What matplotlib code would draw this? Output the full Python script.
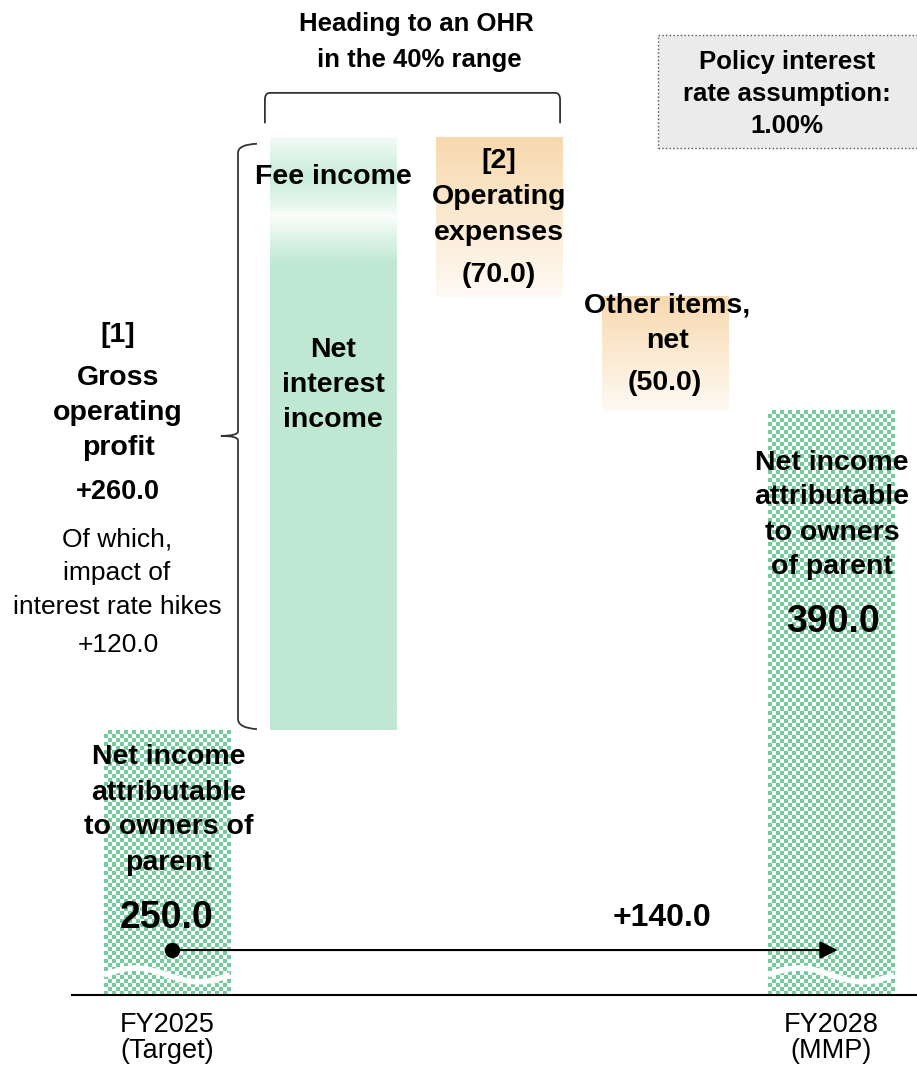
import numpy as np
import matplotlib
matplotlib.use('Agg')
import matplotlib.pyplot as plt
from matplotlib.colors import LinearSegmentedColormap, ListedColormap
from matplotlib.patches import Rectangle, PathPatch
from matplotlib.path import Path

plt.rcParams['font.family'] = ['Liberation Sans', 'DejaVu Sans']

# waterfall data (billion yen)
positions = [0, 1, 2, 3, 4]
start_value = 250.0
net_interest_income = 225.0   # part of gross operating profit (estimated split)
fee_income = 35.0
operating_expenses = -70.0
other_items = -50.0
end_value = 390.0
tick_pos = [0, 4]
tick_labels = ['FY2025\n(Target)', 'FY2028\n(MMP)']

W, H = 917, 1070
fig = plt.figure(figsize=(W / 100, H / 100), dpi=100)
ax = fig.add_axes([72 / W, 75 / H, 845 / W, 995 / H])
XLIM = (-0.572, 4.518)
YLIM = (134, 570)
ax.set_xlim(XLIM)
ax.set_ylim(YLIM)
ax.set_autoscale_on(False)

bw = 0.76
floor = YLIM[0]
GREEN = '#bfe8d3'
CHECK = '#74cc9c'


def px_per_unit():
    p = ax.transData.transform([[0, 0], [1, 1]])
    return p[1, 0] - p[0, 0], p[1, 1] - p[0, 1]


def checker_bar(x, bottom, top, cell=4):
    sx, sy = px_per_unit()
    nx = int(round(bw * sx / cell))
    ny = int(round((top - bottom) * sy / cell))
    grid = np.add.outer(np.arange(ny), np.arange(nx)) % 2
    ax.imshow(grid, cmap=ListedColormap(['white', CHECK]), interpolation='nearest',
              extent=(x - bw / 2, x + bw / 2, bottom, top), aspect='auto', zorder=1)


def gradient_bar(x, bottom, top, stops):
    cmap = LinearSegmentedColormap.from_list('g', stops)
    grad = np.linspace(0, 1, 256).reshape(-1, 1)
    ax.imshow(grad, cmap=cmap, vmin=0, vmax=1, interpolation='bilinear',
              extent=(x - bw / 2, x + bw / 2, bottom, top), aspect='auto', zorder=1)


def wave(x, yc, amp=3.0):
    t = np.linspace(0, 1, 120)
    ax.plot(x - bw / 2 + t * bw, yc + amp * np.sin(2 * np.pi * t), color='white',
            lw=4, solid_capstyle='butt', zorder=2)


# bars
gross_top = start_value + net_interest_income + fee_income
opex_bottom = gross_top + operating_expenses
other_bottom = opex_bottom + other_items

checker_bar(positions[0], floor, start_value)
gradient_bar(positions[1], start_value, start_value + net_interest_income,
             [(0, '#f8fdfa'), (0.09, GREEN), (1, GREEN)])
gradient_bar(positions[1], start_value + net_interest_income, gross_top,
             [(0, '#f3fbf7'), (0.5, '#c8ecda'), (0.88, '#ebf8f1'), (1, '#fbfefc')])
orange = [(0, '#f8d9ae'), (1, '#fefaf4')]
gradient_bar(positions[2], opex_bottom, gross_top, orange)
gradient_bar(positions[3], other_bottom, opex_bottom, orange)
checker_bar(positions[4], floor, end_value)

wave(positions[0], floor + 8.8)
wave(positions[4], floor + 8.8)

# arrow from start to end
ay = floor + 19.7
ax.annotate('', xy=(positions[4] + 0.04, ay), xytext=(positions[0] + 0.03, ay),
            arrowprops=dict(arrowstyle='-|>', color='black', lw=1.5,
                            mutation_scale=27, shrinkA=0, shrinkB=0), zorder=3)
ax.plot(positions[0] + 0.03, ay, 'o', color='black', ms=10, zorder=4)

# left brace around gross operating profit
xl, xe, xt = 0.428, 0.542, 0.325
bt, bb = gross_top - 3, start_value + 1
mid = (bt + bb) / 2
verts = [(xe, bt), (xl, bt - 0.3), (xl, bt - 4),
         (xl, mid + 2), (xl, mid), (xt, mid),
         (xl, mid), (xl, mid - 2),
         (xl, bb + 4), (xl, bb), (xe, bb - 0.5)]
codes = [Path.MOVETO, Path.CURVE3, Path.CURVE3,
         Path.LINETO, Path.CURVE3, Path.CURVE3,
         Path.CURVE3, Path.CURVE3,
         Path.LINETO, Path.CURVE3, Path.CURVE3]
ax.add_patch(PathPatch(Path(verts, codes), fill=False, ec='#333333', lw=1.3, clip_on=False))

# top bracket over [1] and [2]
xL = positions[1] - bw / 2 - 0.03
xR = positions[2] + bw / 2 - 0.012
yt, yb = gross_top + 19.3, gross_top + 6
verts = [(xL, yb), (xL, yt - 3), (xL, yt), (xL + 0.03, yt),
         (xR - 0.03, yt), (xR, yt), (xR, yt - 3), (xR, yb)]
codes = [Path.MOVETO, Path.LINETO, Path.CURVE3, Path.CURVE3,
         Path.LINETO, Path.CURVE3, Path.CURVE3, Path.LINETO]
ax.add_patch(PathPatch(Path(verts, codes), fill=False, ec='#333333', lw=1.3, clip_on=False))

# axes styling
for s in ['top', 'left', 'right']:
    ax.spines[s].set_visible(False)
ax.spines['bottom'].set_linewidth(1.5)
ax.set_yticks([])
ax.set_xticks(tick_pos, tick_labels)
ax.tick_params(axis='x', length=0, pad=12, labelsize=19.5)
for lbl in ax.get_xticklabels():
    lbl.set_linespacing(1.0)
ax.patch.set_alpha(0)


def label(px, py, s, size=20.5, weight='bold', ls=1.45):
    fig.text(px / W, 1 - py / H, s, ha='center', va='center', fontsize=size,
             fontweight=weight, linespacing=ls, multialignment='center', zorder=5)


# policy box
fig.patches.append(Rectangle((658 / W, 1 - 148 / H), 270 / W, 113 / H, transform=fig.transFigure,
                             fc='#ebebeb', ec='#555555', lw=1.0, ls=':', zorder=1))
label(787, 94, 'Policy interest\nrate assumption:\n1.00%', size=18.5, ls=1.4)

label(416, 42, 'Heading to an OHR\n in the 40% range', size=18.5, ls=1.65)
label(333, 177, 'Fee income')
label(333, 385, 'Net\ninterest\nincome')
label(499, 197, '[2]\nOperating\nexpenses', ls=1.5)
label(499, 275, '(70.0)')
label(667, 323, 'Other items,\nnet')
label(665, 383, '(50.0)')
label(118, 335, '[1]')
label(118, 413, 'Gross\noperating\nprofit')
label(118, 492, '+260.0', size=19.5)
label(117, 573, 'Of which,\nimpact of\ninterest rate hikes', size=19, weight='normal', ls=1.5)
label(118, 645, '+120.0', size=19, weight='normal')
label(169, 810, 'Net income\nattributable\nto owners of\nparent')
label(167, 918, '250.0', size=27)
label(832, 515, 'Net income\nattributable\nto owners\nof parent')
label(833, 622, '390.0', size=27)
label(662, 918, '+140.0', size=23)

fig.savefig('out.png', dpi=100)
